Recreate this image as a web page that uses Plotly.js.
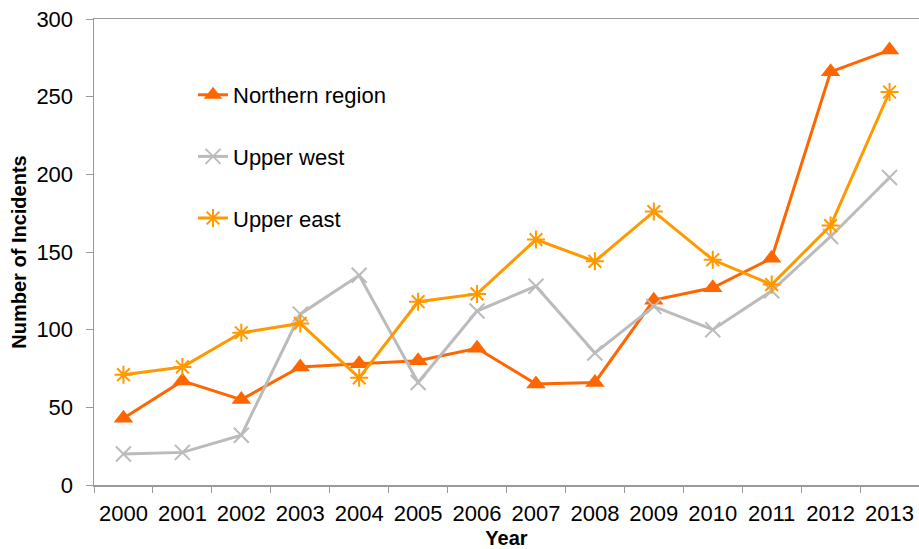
<!DOCTYPE html>
<html>
<head>
<meta charset="utf-8">
<script src="https://cdn.plot.ly/plotly-3.0.1.min.js"></script>
<style>html,body{margin:0;padding:0;background:#fff;}#chart{width:919px;height:549px;}</style>
</head>
<body>
<div id="chart"></div>
<script>
const years = ["2000","2001","2002","2003","2004","2005","2006","2007","2008","2009","2010","2011","2012","2013"];
const northernRegion = [43, 67, 55, 76, 78, 80, 88, 65, 66, 119, 127, 146, 266, 280];
const upperWest = [20, 21, 32, 110, 135, 66, 112, 128, 85, 115, 100, 125, 160, 198];
const upperEast = [71, 76, 98, 104, 69, 118, 123, 158, 144, 176, 145, 129, 167, 253];
const yTicks = [0, 50, 100, 150, 200, 250, 300];

const font = "Liberation Sans, Arial, sans-serif";
const traces = [
  {x: years, y: northernRegion, name: "Northern region", type: "scatter", mode: "lines+markers",
   legendgroup: "a",
   line: {color: "#FF6600", width: 3},
   marker: {symbol: "triangle-up", size: 17, color: "#FF6600"}},
  {x: years, y: upperWest, name: "Upper west", type: "scatter", mode: "lines+markers",
   legendgroup: "b",
   line: {color: "#BBBBBB", width: 3},
   marker: {symbol: "x-thin-open", size: 15, color: "#BBBBBB", line: {color: "#BBBBBB", width: 2}}},
  {x: years, y: upperEast, name: "Upper east", type: "scatter", mode: "lines+markers",
   legendgroup: "c",
   line: {color: "#FF9900", width: 3},
   marker: {symbol: "asterisk-open", size: 15, color: "#FF9900", line: {color: "#FF9900", width: 2}}}
];

const layout = {
  width: 919, height: 549,
  margin: {l: 94, r: 0, t: 19, b: 64},
  paper_bgcolor: "#fff", plot_bgcolor: "#fff",
  font: {family: font, color: "#000"},
  showlegend: true,
  legend: {x: 0.12, y: 0.882, xanchor: "left", yanchor: "top", bgcolor: "rgba(0,0,0,0)",
           font: {size: 22, family: font, color: "#000"}, traceorder: "grouped", tracegroupgap: 30},
  xaxis: {type: "category", tickmode: "array", tickvals: years, ticktext: years, tickangle: 0,
          range: [-0.5, 13.5], autorange: false,
          tickson: "boundaries", ticks: "outside", ticklen: 6, tickcolor: "#999",
          showline: true, linecolor: "#999", linewidth: 1.5, mirror: true, showgrid: false,
          ticklabelstandoff: 8,
          tickfont: {size: 22, family: font, color: "#000"},
          title: {text: "Year", font: {size: 20, family: font, color: "#000", weight: "bold"}, standoff: 6}},
  yaxis: {range: [0, 300], tickvals: yTicks, ticks: "outside", ticklen: 7, tickcolor: "#999",
          showline: true, linecolor: "#999", linewidth: 1.5, showgrid: false, zeroline: false,
          ticklabelstandoff: 8,
          tickfont: {size: 22, family: font, color: "#000"},
          title: {text: "Number of Incidents", font: {size: 20, family: font, color: "#000", weight: "bold"}, standoff: 4}}
};

Plotly.newPlot("chart", traces, layout, {displayModeBar: false, staticPlot: true});
</script>
</body>
</html>
